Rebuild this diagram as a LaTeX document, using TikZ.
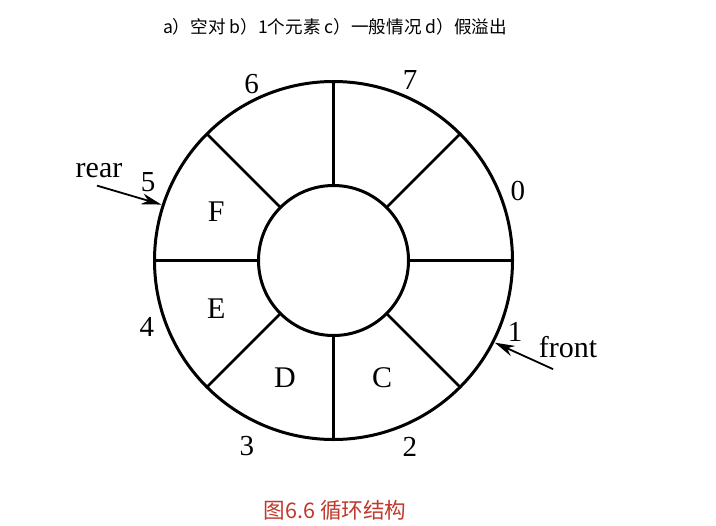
\documentclass[tikz,border=0pt]{standalone}
\usepackage{fontspec}
\setmainfont{Liberation Serif}
\newfontfamily\cjk{Noto Sans CJK SC}
\usepackage{xcolor}
\usetikzlibrary{arrows.meta,positioning}
\definecolor{captionred}{RGB}{192,57,43}
\tikzset{
  ring/.style={line width=1.5pt},
  spoke/.style={line width=1.25pt},
  slot/.style={inner sep=0pt,font=\fontsize{15}{18}\selectfont},
  idx/.style={inner sep=0pt,font=\fontsize{14.5}{17}\selectfont},
  tag/.style={inner sep=3pt,font=\fontsize{15}{18}\selectfont},
  title/.style={inner sep=0pt,font=\cjk\fontsize{8.8}{11}\selectfont}
}
\tikzstyle{pointer} = [line width=0.9pt,-{Stealth[length=10pt,width=5.5pt]}]

\begin{document}
\begin{tikzpicture}[x=0.5pt,y=-0.5pt]
  \useasboundingbox (0,0) rectangle (716,525);
  \coordinate (o) at (333.5,260.5);
  % ring of eight cells
  \draw[ring] (o) circle[radius=179];
  \draw[ring] (o) circle[radius=75];
  \foreach \a in {0,45,...,315}
    \draw[spoke] ([shift={(o)}]\a:75) -- ([shift={(o)}]\a:179);
  % cell indices
  \foreach \n/\a/\r in {0/20.7/197,7/67/196,6/114.9/194.5,5/157/201.5,
                        4/-160.5/198,3/-115/205,2/-67.7/201,1/-21.4/195}
    \node[idx] (i\n) at ([shift={(o)}]-\a:\r) {\n};
  % stored elements
  \foreach \t/\a in {F/157.5,E/202.5,D/247.5,C/292.5}
    \node[slot] (s\t) at ([shift={(o)}]-\a:127) {\t};
  % pointers
  \coordinate (p5) at ([shift={(o)}]-162:181);
  \coordinate (p1) at ([shift={(o)}]27:181);
  \node[tag] (rear) at (99,171) {rear};
  \node[tag] (front) at (568,347) {front};
  \draw[pointer] ([shift={(-2,1)}]rear.south) -- (p5);
  \draw[pointer] ([shift={(-15,5)}]front.south) -- (p1);
  % headings
  \node[title] (head) at (335,27) {a）空对 b）1个元素 c）一般情况 d）假溢出};
  \node[title,font=\cjk\fontsize{10.8}{13}\selectfont,text=captionred] (cap) at (335,510) {图6.6 循环结构};
\end{tikzpicture}
\end{document}
